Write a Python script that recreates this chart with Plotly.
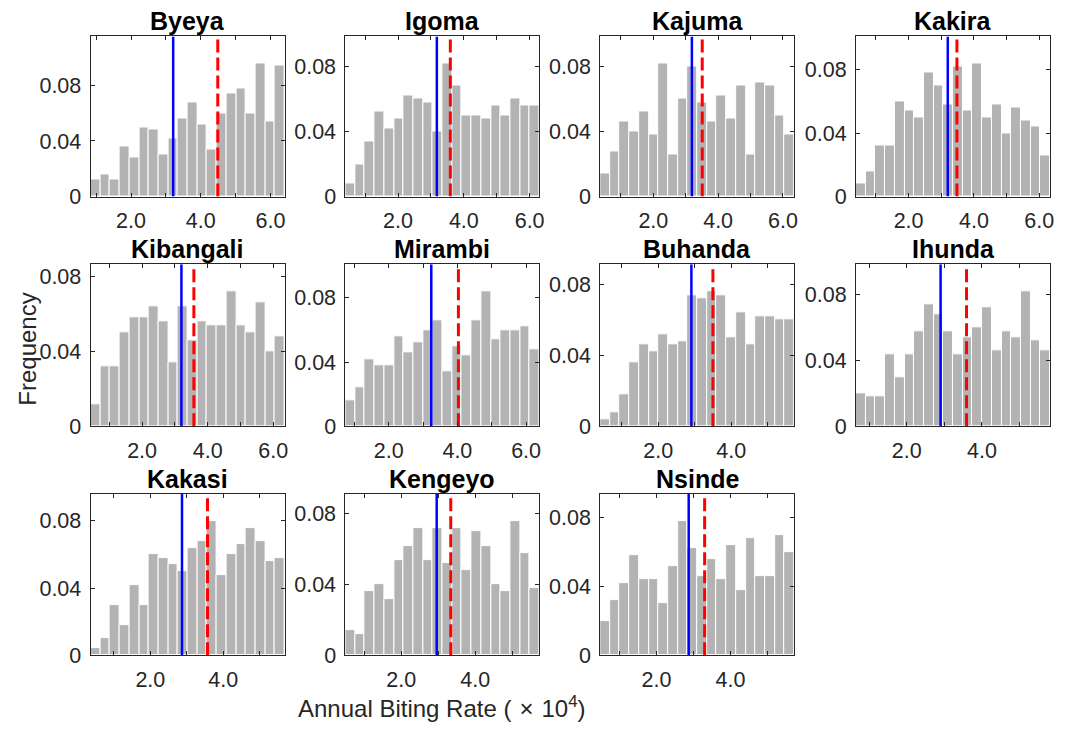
import plotly.graph_objects as go

# ---------------- data ----------------
sites = ["Byeya", "Igoma", "Kajuma", "Kakira", "Kibangali", "Mirambi",
         "Buhanda", "Ihunda", "Kakasi", "Kengeyo", "Nsinde"]

byeya = [0.012, 0.016, 0.012, 0.036, 0.028, 0.050, 0.048, 0.030, 0.042, 0.056,
         0.068, 0.052, 0.034, 0.060, 0.074, 0.078, 0.060, 0.096, 0.054, 0.094]
igoma = [0.008, 0.020, 0.034, 0.052, 0.042, 0.048, 0.062, 0.060, 0.058, 0.040,
         0.082, 0.068, 0.050, 0.050, 0.048, 0.056, 0.050, 0.060, 0.056, 0.056]
kajuma = [0.014, 0.028, 0.046, 0.040, 0.052, 0.038, 0.082, 0.026, 0.060, 0.080,
          0.058, 0.046, 0.062, 0.048, 0.068, 0.026, 0.070, 0.068, 0.050, 0.038]
kakira = [0.008, 0.016, 0.032, 0.032, 0.060, 0.054, 0.050, 0.078, 0.070, 0.058,
          0.082, 0.054, 0.084, 0.050, 0.058, 0.040, 0.056, 0.048, 0.044, 0.026]
kibangali = [0.012, 0.032, 0.032, 0.050, 0.058, 0.058, 0.064, 0.056, 0.034, 0.064,
             0.046, 0.056, 0.054, 0.054, 0.072, 0.054, 0.050, 0.066, 0.040, 0.048]
mirambi = [0.016, 0.024, 0.042, 0.038, 0.038, 0.056, 0.046, 0.052, 0.060, 0.066,
           0.034, 0.050, 0.044, 0.066, 0.084, 0.054, 0.060, 0.060, 0.062, 0.048]
buhanda = [0.004, 0.008, 0.018, 0.036, 0.046, 0.042, 0.052, 0.046, 0.048, 0.074,
           0.072, 0.076, 0.074, 0.050, 0.064, 0.046, 0.062, 0.062, 0.060, 0.060]
ihunda = [0.020, 0.018, 0.018, 0.044, 0.030, 0.044, 0.058, 0.074, 0.068, 0.058,
          0.044, 0.054, 0.060, 0.072, 0.046, 0.058, 0.054, 0.082, 0.052, 0.046]
kakasi = [0.004, 0.010, 0.030, 0.018, 0.042, 0.030, 0.060, 0.058, 0.054, 0.050,
          0.064, 0.068, 0.080, 0.048, 0.060, 0.066, 0.076, 0.068, 0.056, 0.058]
kengeyo = [0.014, 0.012, 0.036, 0.040, 0.032, 0.054, 0.062, 0.072, 0.054, 0.072,
           0.052, 0.072, 0.048, 0.070, 0.062, 0.040, 0.036, 0.076, 0.058, 0.038]
nsinde = [0.020, 0.032, 0.042, 0.058, 0.044, 0.044, 0.030, 0.052, 0.078, 0.062,
          0.046, 0.056, 0.044, 0.064, 0.038, 0.068, 0.046, 0.046, 0.070, 0.060]

freqs = [byeya, igoma, kajuma, kakira, kibangali, mirambi,
         buhanda, ihunda, kakasi, kengeyo, nsinde]

# histogram data range (x 10^4)
x_lo = [0.84, 0.40, 0.36, 0.39, 0.43, 0.74, 0.41, 0.65, 0.36, 0.49, 0.48]
x_hi = [6.41, 6.30, 6.35, 6.33, 6.35, 6.39, 5.73, 5.81, 5.69, 5.74, 5.72]

# reference values (blue solid, red dashed)
blue_vals = [3.21, 3.18, 3.19, 3.20, 3.20, 3.24, 2.91, 2.90, 2.87, 2.96, 2.87]
red_vals = [4.49, 3.59, 3.51, 3.48, 3.58, 4.03, 3.50, 3.59, 3.57, 3.34, 3.30]

y_tick_vals = [0, 0.04, 0.08]
y_tick_text = ["0", "0.04", "0.08"]
x_tick_vals = [2, 4, 6]
x_tick_text = ["2.0", "4.0", "6.0"]
x_minor_vals = [1, 3, 5]

# ---------------- layout geometry ----------------
# the page body keeps its default 8px margin on every side; the figure
# is sized so that body + figure fill the 1073x740 window exactly.
OFF = 8
W, H = 1073 - 2 * OFF, 740 - 2 * OFF
col_px = [(91, 286), (347, 542), (603, 798), (860, 1055)]
row_px = [(37, 200), (269, 434), (503, 667)]


def px_x(v):
    return (v - OFF) / W


def px_y(v):
    return 1 - (v - OFF) / H


FONT = "Liberation Sans, Arial, sans-serif"
AX_COLOR = "#262626"
BAR_COLOR = "#b3b3b3"
TICK_SIZE = 21.5

fig = go.Figure()
layout = dict(
    width=W, height=H,
    margin=dict(l=0, r=0, t=0, b=0),
    paper_bgcolor="white", plot_bgcolor="white",
    showlegend=False,
    font=dict(family=FONT, color=AX_COLOR, size=TICK_SIZE),
    bargap=0,
)
annotations = []

for i, (name, f) in enumerate(zip(sites, freqs)):
    r, c = divmod(i, 4)
    idx = "" if i == 0 else str(i + 1)
    xa, ya = "x" + idx, "y" + idx
    lo, hi = x_lo[i], x_hi[i]
    n = len(f)
    bw = (hi - lo) / n
    centers = [lo + bw * (k + 0.5) for k in range(n)]
    ymax = max(f) * 1.2

    fig.add_trace(go.Bar(
        x=centers, y=f, width=[bw] * n, xaxis=xa, yaxis=ya,
        marker=dict(color=BAR_COLOR, line=dict(color="white", width=1)),
        hoverinfo="x+y",
    ))
    fig.add_trace(go.Scatter(
        x=[blue_vals[i], blue_vals[i]], y=[0, ymax], xaxis=xa, yaxis=ya,
        mode="lines", line=dict(color="#0000ff", width=2.5),
    ))
    fig.add_trace(go.Scatter(
        x=[red_vals[i], red_vals[i]], y=[0, ymax], xaxis=xa, yaxis=ya,
        mode="lines", line=dict(color="#ff0000", width=3, dash="13px,5px"),
    ))

    x0, x1 = col_px[c]
    top, bot = row_px[r]
    layout["xaxis" + idx] = dict(
        domain=[px_x(x0), px_x(x1)], anchor=ya, range=[lo, hi],
        tickvals=x_tick_vals, ticktext=x_tick_text,
        ticks="inside", ticklen=4, tickcolor=AX_COLOR, tickwidth=1,
        minor=dict(tickvals=x_minor_vals, ticks="inside", ticklen=4,
                   tickcolor=AX_COLOR, tickwidth=1, showgrid=False),
        showline=True, linecolor=AX_COLOR, linewidth=1, mirror="ticks",
        showgrid=False, zeroline=False,
        tickfont=dict(family=FONT, size=TICK_SIZE, color=AX_COLOR),
        ticklabelstandoff=5, fixedrange=True,
    )
    layout["yaxis" + idx] = dict(
        domain=[px_y(bot), px_y(top)], anchor=xa, range=[0, ymax],
        tickvals=y_tick_vals, ticktext=y_tick_text,
        ticks="inside", ticklen=4, tickcolor=AX_COLOR, tickwidth=1,
        showline=True, linecolor=AX_COLOR, linewidth=1, mirror="ticks",
        showgrid=False, zeroline=False,
        tickfont=dict(family=FONT, size=TICK_SIZE, color=AX_COLOR),
        ticklabelstandoff=4, fixedrange=True,
    )
    annotations.append(dict(
        text="<b>%s</b>" % name, xref="paper", yref="paper",
        x=px_x((x0 + x1) / 2), y=px_y(top), xanchor="center", yanchor="middle",
        yshift=15, showarrow=False,
        font=dict(family=FONT, size=25, color="black"),
    ))

annotations.append(dict(
    text="Annual Biting Rate (\u2004×\u200410<sup>4</sup>)",
    xref="paper", yref="paper",
    x=px_x(444), y=px_y(720), xanchor="center", yanchor="middle",
    showarrow=False, font=dict(family=FONT, size=24, color=AX_COLOR),
))
annotations.append(dict(
    text="Frequency", xref="paper", yref="paper",
    x=px_x(28), y=px_y(355), xanchor="center", yanchor="middle",
    textangle=-90, showarrow=False,
    font=dict(family=FONT, size=24, color=AX_COLOR),
))
layout["annotations"] = annotations
fig.update_layout(**layout)

fig.write_html("out.html", config={"displayModeBar": False})
